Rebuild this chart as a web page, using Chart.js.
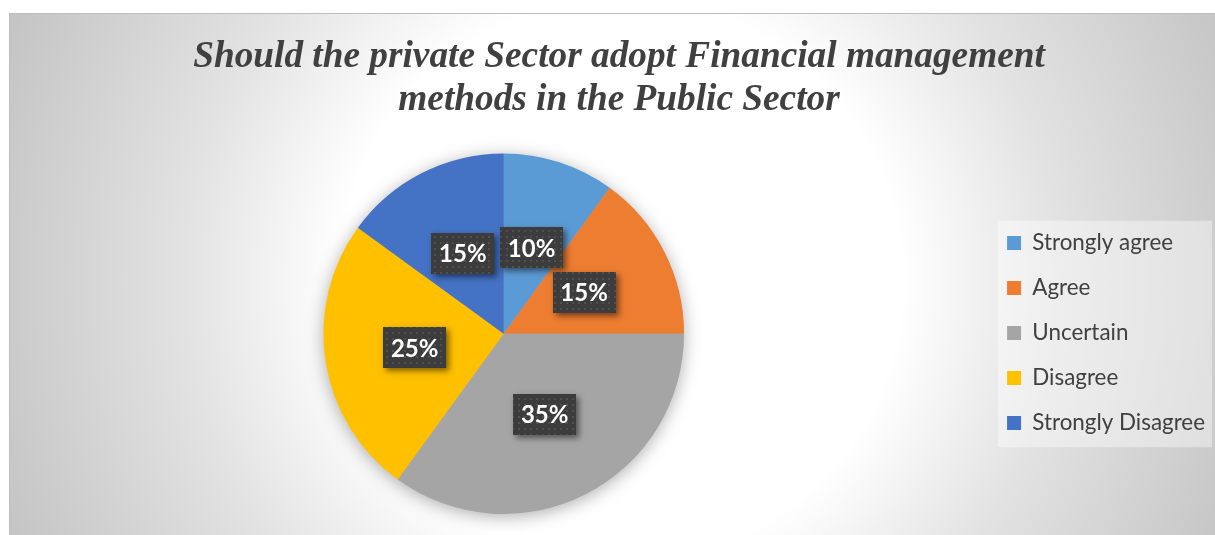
<!DOCTYPE html>
<html>
<head>
<meta charset="utf-8">
<title>Financial management survey</title>
<script src="https://cdn.jsdelivr.net/npm/chart.js@4"></script>
<style>
  html, body { margin: 0; padding: 0; background: #fff; overflow: hidden; }
  #frame {
    position: absolute; left: 9px; top: 13px; width: 1240px; height: 540px;
    border-top: 1px solid #bdbdbd; border-left: 1px solid #bdbdbd;
    background: radial-gradient(circle at 611px 267px, #ffffff 0px, #ffffff 280px, #e2e2e2 440px, #c2c2c2 680px);
  }
  #wrap { position: absolute; left: 0; top: 0; width: 1238px; height: 535px; }
</style>
</head>
<body>
<div id="frame"></div>
<div id="wrap"><canvas id="survey-chart"></canvas></div>
<script>
// Survey answers
const answers = ['Strongly agree', 'Agree', 'Uncertain', 'Disagree', 'Strongly Disagree'];
const shares = [10, 15, 35, 25, 15];
const sliceColors = ['#5B9BD5', '#ED7D31', '#A5A5A5', '#FFC000', '#4472C4'];

// Dark dotted fill used behind the percentage labels
function makeDotPattern(ctx) {
  const tile = document.createElement('canvas');
  tile.width = 6;
  tile.height = 6;
  const t = tile.getContext('2d');
  t.fillStyle = '#3c3c3c';
  t.fillRect(0, 0, 6, 6);
  t.fillStyle = '#505050';
  t.fillRect(2, 2, 2, 2);
  return ctx.createPattern(tile, 'repeat');
}

// Soft shadow under the whole pie
const pieShadow = {
  id: 'pieShadow',
  beforeDatasetsDraw(chart) {
    const arc = chart.getDatasetMeta(0).data[0];
    if (!arc) return;
    const ctx = chart.ctx;
    ctx.save();
    ctx.shadowColor = 'rgba(0,0,0,0.35)';
    ctx.shadowBlur = 18;
    ctx.shadowOffsetY = 3;
    ctx.fillStyle = '#a5a5a5';
    ctx.beginPath();
    ctx.arc(arc.x, arc.y, arc.outerRadius - 1, 0, Math.PI * 2);
    ctx.fill();
    ctx.restore();
  }
};

// Light panel behind the legend
const legendPanel = {
  id: 'legendPanel',
  beforeDraw(chart) {
    const lg = chart.legend;
    if (!lg || !lg.legendHitBoxes.length) return;
    const boxes = lg.legendHitBoxes;
    const first = boxes[0];
    const last = boxes[boxes.length - 1];
    const ctx = chart.ctx;
    ctx.save();
    ctx.fillStyle = 'rgba(255,255,255,0.4)';
    ctx.fillRect(first.left - 9, first.top - 11, 214, last.top + last.height - first.top + 24);
    ctx.restore();
  }
};

// Percentage labels in dark boxes at the middle of each slice
const sliceLabels = {
  id: 'sliceLabels',
  afterDatasetsDraw(chart) {
    const ctx = chart.ctx;
    const pattern = makeDotPattern(ctx);
    const meta = chart.getDatasetMeta(0);
    meta.data.forEach((arc, i) => {
      const pos = arc.tooltipPosition();
      const w = 63, h = 41;
      const x = Math.round(pos.x - w / 2);
      const y = Math.round(pos.y - h / 2);
      ctx.save();
      ctx.shadowColor = 'rgba(0,0,0,0.5)';
      ctx.shadowBlur = 6;
      ctx.shadowOffsetX = 3;
      ctx.shadowOffsetY = 3;
      ctx.fillStyle = '#3c3c3c';
      ctx.fillRect(x, y, w, h);
      ctx.restore();
      ctx.save();
      ctx.fillStyle = pattern;
      ctx.fillRect(x, y, w, h);
      ctx.fillStyle = '#ffffff';
      ctx.font = 'bold 24px Lato';
      ctx.textAlign = 'center';
      ctx.textBaseline = 'middle';
      ctx.fillText(shares[i] + '%', pos.x, pos.y + 1);
      ctx.restore();
    });
  }
};

const ctx = document.getElementById('survey-chart').getContext('2d');
const surveyChart = new Chart(ctx, {
  type: 'pie',
  data: {
    labels: answers,
    datasets: [{
      data: shares,
      backgroundColor: sliceColors,
      borderWidth: 0,
      hoverOffset: 0
    }]
  },
  options: {
    responsive: true,
    maintainAspectRatio: false,
    animation: false,
    layout: { padding: { left: 23, right: 23, top: 14, bottom: 21 } },
    plugins: {
      title: {
        display: true,
        text: ['Should the private Sector adopt Financial management', 'methods in the Public Sector'],
        color: '#404040',
        font: { family: 'Liberation Serif', size: 37.3, style: 'italic', weight: 'bold', lineHeight: 1.158 },
        padding: { top: 22, bottom: 31 }
      },
      legend: {
        position: 'right',
        // empty title just pushes the entries down beside the pie centre
        title: { display: true, text: '', padding: 0, font: { size: 138, lineHeight: 1 } },
        labels: {
          boxWidth: 14,
          boxHeight: 14,
          padding: 22.6,
          color: '#404040',
          font: { family: 'Lato', size: 22.4 }
        }
      },
      tooltip: { enabled: false }
    }
  },
  plugins: [pieShadow, legendPanel, sliceLabels]
});
</script>
</body>
</html>
